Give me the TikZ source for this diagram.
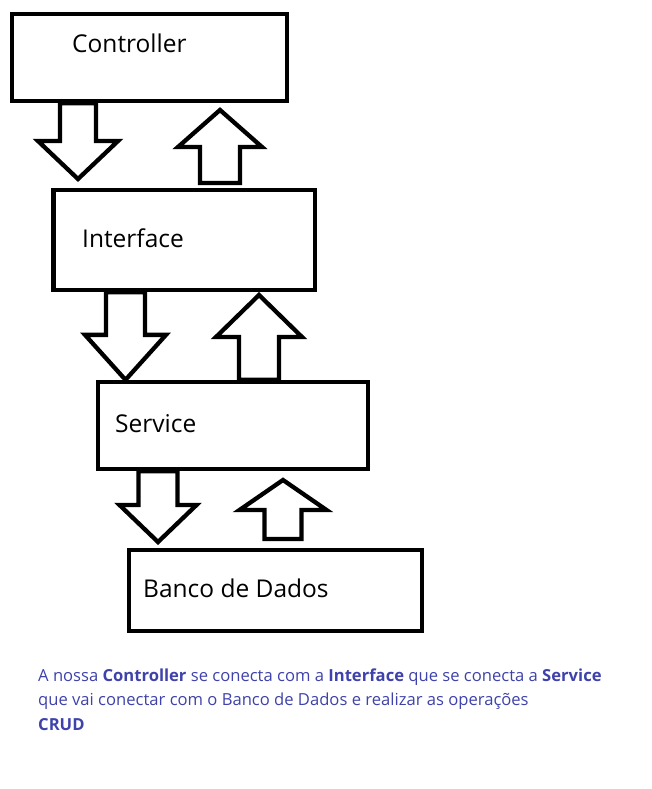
\documentclass[tikz,border=0pt]{standalone}
\usepackage{fontspec}
\setmainfont{Open Sans}
\usetikzlibrary{positioning, calc}
\definecolor{captionblue}{RGB}{62, 66, 170}

% hollow block arrow: base point, tip point, shaft half width, head half width, head length
\newcommand{\fatarrow}[5]{%
  \draw[blockarrow] let \p1=(#1), \p2=(#2), \n1={ifthenelse(\y1>\y2,1,-1)} in
    (\x1-#3pt,\y1) -- (\x1-#3pt,\y2+\n1*#5pt) -- (\x1-#4pt,\y2+\n1*#5pt) -- (\x1,\y2)
    -- (\x1+#4pt,\y2+\n1*#5pt) -- (\x1+#3pt,\y2+\n1*#5pt) -- (\x1+#3pt,\y1) -- cycle;}

\begin{document}
\begin{tikzpicture}[
    x=1pt, y=-1pt,
    box/.style={
        rectangle, draw=black, line width=4.3pt, fill=white,
        inner sep=0pt
    },
    boxtext/.style={
        anchor=base west, inner sep=0pt,
        font=\fontsize{24.5}{28}\selectfont
    },
    captext/.style={
        anchor=base west, inner sep=0pt, text=captionblue,
        font=\fontsize{16.6}{20}\selectfont
    },
    blockarrow/.style={
        draw=black, line width=4.3pt, line join=miter, fill=white
    }
]
\useasboundingbox (0,0) rectangle (651,789);

% Layers
\node[box, minimum width=275pt, minimum height=87pt] (ctrl) at (149.5,57.5) {};
\node[box, minimum width=261.5pt, minimum height=100pt] (intf) at (184.25,240) {};
\node[box, minimum width=270pt, minimum height=87pt] (serv) at (233,425.5) {};
\node[box, minimum width=293pt, minimum height=81pt] (db) at (275.5,590.5) {};

\node[boxtext] (ctrl-text) at (72,53) {Controller};
\node[boxtext] (intf-text) at (82,247) {Interface};
\node[boxtext] (serv-text) at (115,432) {Service};
\node[boxtext] (db-text) at (143,597) {Banco de Dados};

% Arrow ends
\coordinate (ctrl-down) at (78,0 |- ctrl.south);
\coordinate (ctrl-down-tip) at (78,179);
\coordinate (intf-up) at (220,183);
\coordinate (intf-up-tip) at (220,110);
\coordinate (intf-down) at (125.5,0 |- intf.south);
\coordinate (intf-down-tip) at (125.5,0 |- serv.north);
\coordinate (serv-up) at (259,0 |- serv.north);
\coordinate (serv-up-tip) at (259,295);
\coordinate (serv-down) at (158,0 |- serv.south);
\coordinate (serv-down-tip) at (158,542);
\coordinate (db-up) at (283,539);
\coordinate (db-up-tip) at (283,480);

% Arrows
\fatarrow{ctrl-down}{ctrl-down-tip}{18}{40}{38}
\fatarrow{intf-up}{intf-up-tip}{20}{42}{37}
\fatarrow{intf-down}{intf-down-tip}{19.5}{40.5}{45}
\fatarrow{serv-up}{serv-up-tip}{20}{43}{42}
\fatarrow{serv-down}{serv-down-tip}{19.5}{38.5}{37}
\fatarrow{db-up}{db-up-tip}{18.5}{43.5}{30}

% Caption
\node[captext] (cap1) at (38,681) {A nossa \textbf{Controller} se conecta com a \textbf{Interface} que se conecta a \textbf{Service}};
\node[captext] (cap2) at ([yshift=-24.5pt]cap1.base west) {que vai conectar com o Banco de Dados e realizar as operações};
\node[captext] (cap3) at ([yshift=-24.5pt]cap2.base west) {\textbf{CRUD}};

\end{tikzpicture}
\end{document}
